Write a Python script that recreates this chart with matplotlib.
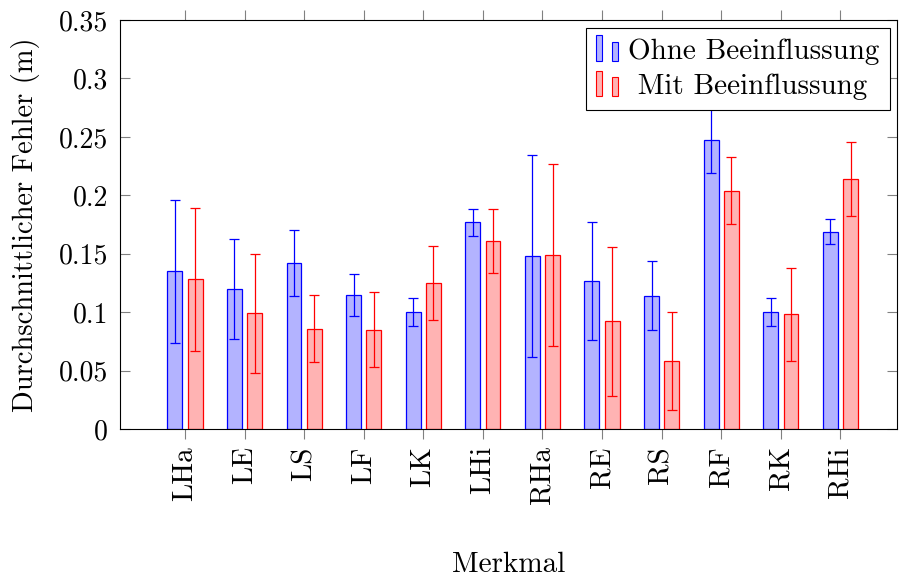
import matplotlib
matplotlib.use("Agg")
import matplotlib.pyplot as plt
import numpy as np
from matplotlib.patches import Rectangle, Patch

plt.rcParams["font.family"] = ["cmr10", "DejaVu Serif"]
plt.rcParams["axes.formatter.use_mathtext"] = True

# data
categories = ["LHa", "LE", "LS", "LF", "LK", "LHi", "RHa", "RE", "RS", "RF", "RK", "RHi"]
ohne = [0.135, 0.120, 0.142, 0.115, 0.100, 0.177, 0.148, 0.127, 0.114, 0.247, 0.100, 0.169]
ohne_err = [0.061, 0.043, 0.028, 0.018, 0.012, 0.0115, 0.0865, 0.0505, 0.0295, 0.028, 0.012, 0.0105]
mit = [0.128, 0.099, 0.086, 0.085, 0.125, 0.161, 0.149, 0.092, 0.0585, 0.204, 0.098, 0.214]
mit_err = [0.061, 0.051, 0.029, 0.032, 0.032, 0.0275, 0.078, 0.0635, 0.042, 0.029, 0.0395, 0.032]
yticks = [0, 0.05, 0.1, 0.15, 0.2, 0.25, 0.3, 0.35]
ytick_labels = ["0", "0.05", "0.1", "0.15", "0.2", "0.25", "0.3", "0.35"]


class HandlerTwoBars:
    """pgfplots-style ybar legend image: two small bars."""

    def legend_artist(self, legend, orig_handle, fontsize, handlebox):
        x0, y0 = -handlebox.xdescent, -handlebox.ydescent
        w, h = handlebox.width, handlebox.height
        fc = orig_handle.get_facecolor()
        ec = orig_handle.get_edgecolor()
        bw = w * 0.26
        r1 = Rectangle((x0, y0 - h * 0.1), bw, h * 1.25, facecolor=fc, edgecolor=ec,
                       lw=0.8, transform=handlebox.get_transform())
        r2 = Rectangle((x0 + w * 0.66, y0 - h * 0.1), bw, h * 0.95, facecolor=fc, edgecolor=ec,
                       lw=0.8, transform=handlebox.get_transform())
        handlebox.add_artist(r1)
        handlebox.add_artist(r2)
        return r1


fig = plt.figure(figsize=(8.99, 5.81), dpi=100)
ax = fig.add_axes([0.1335, 0.2616, 0.8643, 0.704])

x = np.arange(len(categories))
off = 0.17
bw = 0.25
blue, red = "#0000ff", "#ff0000"
ax.bar(x - off, ohne, bw, color="#b3b3ff", edgecolor=blue, linewidth=0.9, zorder=2)
ax.bar(x + off, mit, bw, color="#ffb3b3", edgecolor=red, linewidth=0.9, zorder=2)
ax.errorbar(x - off, ohne, yerr=ohne_err, fmt="none", ecolor=blue, elinewidth=0.9,
            capsize=3.8, capthick=0.9, zorder=3)
ax.errorbar(x + off, mit, yerr=mit_err, fmt="none", ecolor=red, elinewidth=0.9,
            capsize=3.8, capthick=0.9, zorder=3)

ax.set_xlim(-1.09, 11.95)
ax.set_ylim(0, 0.35)
ax.set_xticks(x)
ax.set_xticklabels(categories, rotation=90, fontsize=21)
ax.set_yticks(yticks)
ax.set_yticklabels(ytick_labels, fontsize=20)

ax.tick_params(axis="x", direction="out", top=True, length=7.5, width=0.8,
               color="#808080", pad=5)
ax.tick_params(axis="y", direction="in", right=True, length=7.5, width=0.8,
               color="#808080", pad=8.5)
for s in ax.spines.values():
    s.set_linewidth(0.8)
    s.set_color("black")

ax.set_ylabel("Durchschnittlicher Fehler (m)", fontsize=20.5, va="center")
ax.yaxis.set_label_coords(-0.122, 0.5)
ax.set_xlabel("Merkmal", fontsize=21, va="center")
ax.xaxis.set_label_coords(0.5, -0.333)

handles = [Patch(facecolor="#b3b3ff", edgecolor=blue), Patch(facecolor="#ffb3b3", edgecolor=red)]
leg = ax.legend(handles, ["Ohne Beeinflussung", " Mit Beeinflussung"],
                handler_map={Patch: HandlerTwoBars()},
                loc="upper right", bbox_to_anchor=(0.991, 0.98), borderaxespad=0,
                fontsize=21, fancybox=False, framealpha=1, edgecolor="black",
                handlelength=0.8, handletextpad=0.3, labelspacing=0.3,
                borderpad=0.35)
leg.get_frame().set_linewidth(0.8)
leg.set_zorder(5)

fig.savefig("out.png", dpi=100)
